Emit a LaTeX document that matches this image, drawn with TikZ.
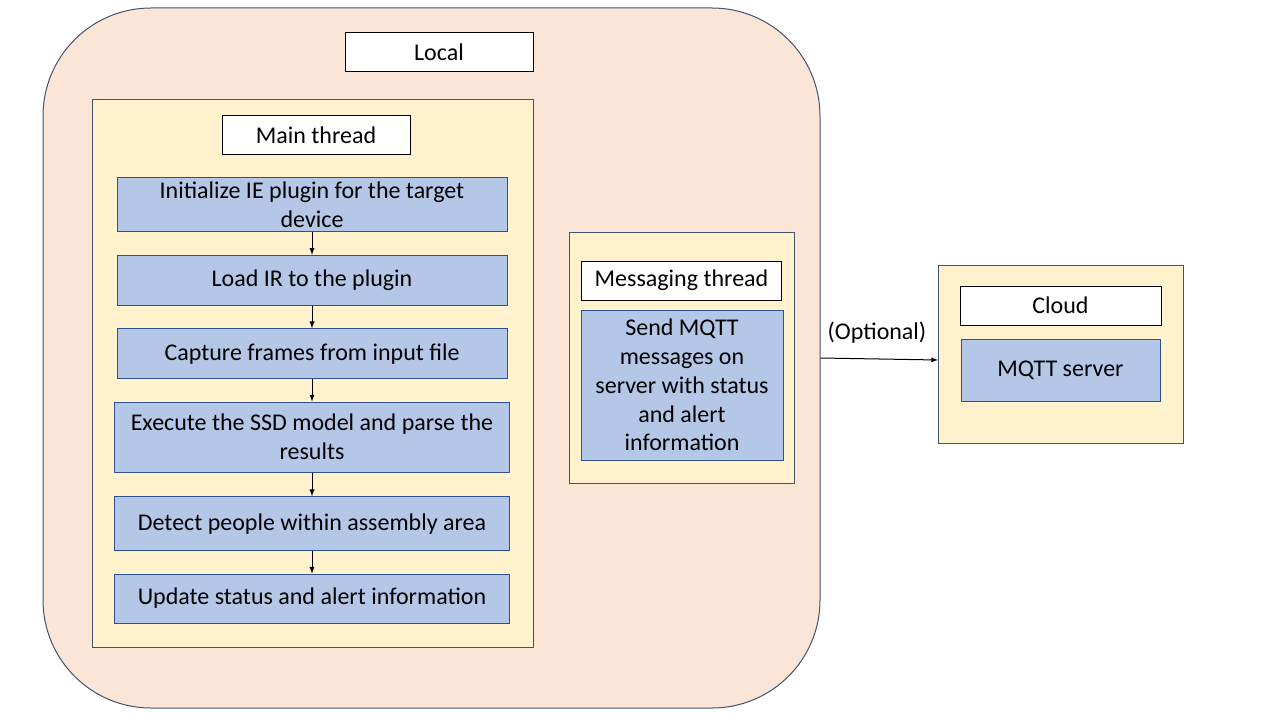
\documentclass[tikz,border=0pt]{standalone}
\usepackage{fontspec}
\setmainfont{Carlito}
\usepackage{xcolor}
\usetikzlibrary{positioning}
\usetikzlibrary{shapes,arrows}

\definecolor{localfill}{HTML}{FBE5D6}
\definecolor{panelfill}{HTML}{FFF2CC}
\definecolor{stepfill}{HTML}{B4C7E7}
\definecolor{stepline}{HTML}{2F528F}
\definecolor{slate}{HTML}{44546A}

\tikzset{
  every node/.style={font=\fontsize{18}{21.6}\selectfont, inner sep=0pt, align=center},
  panel/.style={draw=slate, fill=panelfill, line width=0.75pt},
  title/.style={draw=black, fill=white, line width=0.75pt, minimum height=29.25pt},
  stepbox/.style={draw=stepline, fill=stepfill, line width=0.75pt},
  flow/.style={-latex, line width=0.75pt}
}

\begin{document}
\begin{tikzpicture}[x=0.75pt, y=-0.75pt, node distance=16.75pt]
  \useasboundingbox (0,0) rectangle (1280,720);
  % outer areas
  \node(local) [draw=slate, fill=localfill, line width=0.75pt, rounded corners=81pt,
    minimum width=582.75pt, minimum height=525pt] at (431.5,358) {};
  \node(localtitle) [title, minimum width=141pt] at (439,52.5) {Local};
  \node(mainbox) [panel, minimum width=330.75pt, minimum height=410.25pt] at (312.5,373.5) {};
  \node(maintitle) [title, minimum width=141pt] at (316,135) {Main thread};
  % main thread steps
  \node(init) [stepbox, minimum width=292.5pt, minimum height=40.5pt] at (312,205)
    {Initialize IE plugin for the target\\device};
  \node(load) [stepbox, minimum width=292.5pt, minimum height=37.5pt, below=of init]
    {Load IR to the plugin};
  \node(capture) [stepbox, minimum width=292.5pt, minimum height=37.5pt, below=of load]
    {Capture frames from input file};
  \node(infer) [stepbox, minimum width=296.25pt, minimum height=52.5pt, below=of capture]
    {Execute the SSD model and parse the\\results};
  \node(detect) [stepbox, minimum width=296.25pt, minimum height=40.5pt, below=17.75pt of infer]
    {Detect people within assembly area};
  \node(update) [stepbox, minimum width=296.25pt, minimum height=36.75pt, below=of detect]
    {Update status and alert information};
  \draw[flow] (init) -- (load);
  \draw[flow] (load) -- (capture);
  \draw[flow] (capture) -- (infer);
  \draw[flow] (infer) -- (detect);
  \draw[flow] (detect) -- (update);
  % messaging thread
  \node(msgbox) [panel, minimum width=168.75pt, minimum height=187.5pt] at (681.5,358) {};
  \node(msgtitle) [title, minimum width=150pt] at (681.5,280.5) {Messaging thread};
  \node(send) [stepbox, minimum width=151.5pt, minimum height=112.5pt] at (682,385)
    {Send MQTT\\messages on\\server with status\\and alert\\information};
  % cloud
  \node(cloud) [panel, minimum width=183.75pt, minimum height=133.5pt] at (1060.5,354) {};
  \node(cloudtitle) [title, minimum width=150.75pt] at (1060.5,305.5) {Cloud};
  \node(mqtt) [stepbox, minimum width=149.25pt, minimum height=46.5pt] at (1060.5,370)
    {MQTT server};
  \coordinate(cloudin) at (938,360);
  \draw[flow] (local.east) -- (cloudin);
  \node(optional) at (877,333) {(Optional)};
\end{tikzpicture}
\end{document}
